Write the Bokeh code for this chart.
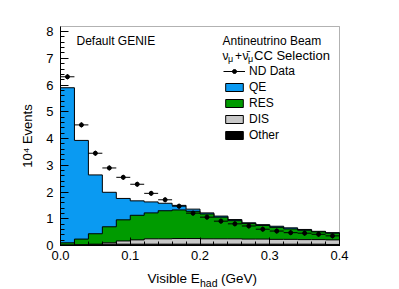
import numpy as np
from bokeh.plotting import figure
from bokeh.models import (Label, Legend, LegendItem, Range1d, SingleIntervalTicker,
                          PrintfTickFormatter, BoxAnnotation)
from bokeh.embed import file_html
from bokeh.resources import INLINE

# ---------------- data (10^4 events per 0.02 GeV bin) ----------------
bin_edges = [0.00, 0.02, 0.04, 0.06, 0.08, 0.10, 0.12, 0.14, 0.16, 0.18, 0.20,
             0.22, 0.24, 0.26, 0.28, 0.30, 0.32, 0.34, 0.36, 0.38, 0.40]
nd_data = [6.31, 4.51, 3.45, 2.90, 2.55, 2.29, 1.95, 1.71, 1.47, 1.21,
           1.06, 0.91, 0.81, 0.73, 0.61, 0.54, 0.48, 0.46, 0.42, 0.36]
nd_err = [0.05, 0.04, 0.04, 0.03, 0.03, 0.03, 0.03, 0.03, 0.03, 0.03,
          0.03, 0.02, 0.02, 0.02, 0.02, 0.02, 0.02, 0.02, 0.02, 0.02]
qe = [5.80, 3.69, 2.20, 1.29, 0.80, 0.54, 0.41, 0.28, 0.17, 0.08,
      0.04, 0.04, 0.04, 0.03, 0.03, 0.04, 0.04, 0.03, 0.02, 0.02]
res = [0.08, 0.21, 0.39, 0.60, 0.79, 0.92, 0.97, 1.05, 1.07, 1.02,
       0.93, 0.81, 0.68, 0.58, 0.51, 0.45, 0.39, 0.35, 0.29, 0.25]
dis = [0.01, 0.01, 0.02, 0.05, 0.12, 0.16, 0.20, 0.20, 0.21, 0.21,
       0.20, 0.20, 0.20, 0.19, 0.19, 0.18, 0.18, 0.17, 0.17, 0.17]
other = [0.01, 0.02, 0.03, 0.05, 0.05, 0.05, 0.05, 0.05, 0.05, 0.05,
         0.05, 0.05, 0.05, 0.05, 0.05, 0.05, 0.05, 0.05, 0.05, 0.04]
x_ticks = [0.0, 0.1, 0.2, 0.3, 0.4]
y_ticks = [0, 1, 2, 3, 4, 5, 6, 7, 8]

FONT = "Liberation Sans"

# visible axes box and the padding (in pixels) around it
X0, X1, Y0, Y1 = 0.0, 0.4, 0.0, 8.19
W, H = 399, 289
PAD_L, PAD_R, PAD_T, PAD_B = 60, 60, 26, 44
fw, fh = W - PAD_L - PAD_R, H - PAD_T - PAD_B
xs_per_px = (X1 - X0) / fw
ys_per_px = (Y1 - Y0) / fh
x_range = Range1d(X0 - PAD_L * xs_per_px, X1 + PAD_R * xs_per_px)
y_range = Range1d(Y0 - PAD_B * ys_per_px, Y1 + PAD_T * ys_per_px)

p = figure(width=W, height=H, output_backend="svg", toolbar_location=None,
           x_range=x_range, y_range=y_range,
           min_border_left=0, min_border_right=0, min_border_top=0, min_border_bottom=0)
p.background_fill_color = "white"
p.border_fill_color = "white"
p.outline_line_color = None
p.xgrid.visible = False
p.ygrid.visible = False

edges = np.array(bin_edges)
left, right = edges[:-1], edges[1:]
centers = (left + right) / 2

# stacked cumulative histograms (ROOT THStack style)
c_other = np.array(other)
c_dis = c_other + np.array(dis)
c_res = c_dis + np.array(res)
c_qe = c_res + np.array(qe)


def step_patch(vals):
    xs = [edges[0]]
    ys = [0.0]
    for i, v in enumerate(vals):
        xs += [edges[i], edges[i + 1]]
        ys += [v, v]
    xs.append(edges[-1])
    ys.append(0.0)
    return xs, ys


layers = [("QE", c_qe, "#0a9af2"), ("RES", c_res, "#009b00"),
          ("DIS", c_dis, "#c8c8c8"), ("Other", c_other, "#000000")]
rend = {}
for name, vals, col in layers:
    xs, ys = step_patch(vals)
    rend[name] = p.patch(xs, ys, fill_color=col, line_color="black", line_width=1)

# data points
nd = np.array(nd_data)
err = np.array(nd_err)
hseg = p.segment(x0=left, x1=right, y0=nd, y1=nd, line_color="black", line_width=1)
p.segment(x0=centers, x1=centers, y0=nd - err, y1=nd + err, line_color="black", line_width=1)
vtick = p.scatter(x=centers, y=nd, marker="dash", angle=np.pi / 2, size=5,
                  line_color="black", line_width=1)
dots = p.scatter(x=centers, y=nd, marker="circle", size=4, fill_color="black",
                 line_color="black")

# frame box
p.add_layout(BoxAnnotation(left=X0, right=X1, bottom=Y0, top=Y1, fill_alpha=0,
                           line_color="black", line_width=1, level="overlay"))

# axes placed at the box edges
p.xaxis.fixed_location = Y0
p.yaxis.fixed_location = X0
p.xaxis.bounds = (X0, X1)
p.yaxis.bounds = (Y0, Y1)
p.xaxis.ticker = SingleIntervalTicker(interval=0.1, num_minor_ticks=5)
p.yaxis.ticker = SingleIntervalTicker(interval=1, num_minor_ticks=5)
p.xaxis.formatter = PrintfTickFormatter(format="%.1f")
for ax in (p.xaxis[0], p.yaxis[0]):
    ax.major_tick_in = 8
    ax.major_tick_out = 0
    ax.minor_tick_in = 4
    ax.minor_tick_out = 0
    ax.major_tick_line_color = "black"
    ax.minor_tick_line_color = "black"
    ax.axis_line_color = "black"
    ax.major_label_text_font = FONT
    ax.major_label_text_font_size = "13px"
    ax.major_label_text_color = "black"
    ax.axis_label_text_font = FONT
    ax.axis_label_text_font_style = "normal"
    ax.axis_label_text_color = "black"
p.yaxis.major_label_standoff = 7
p.xaxis.major_label_standoff = 5
p.yaxis.axis_label = "10\u2074 Events"
p.yaxis.axis_label_text_font_size = "13px"
p.yaxis.axis_label_standoff = 8

# x-axis title with subscript
xl_x = 0.1247
p.add_layout(Label(x=xl_x, y=Y0, text="Visible E", x_offset=0, y_offset=-33,
                   text_font=FONT, text_font_size="13.5px", text_baseline="alphabetic",
                   text_color="black"))
p.add_layout(Label(x=xl_x, y=Y0, text="had", x_offset=52.5, y_offset=-37,
                   text_font=FONT, text_font_size="10.5px", text_baseline="alphabetic",
                   text_color="black"))
p.add_layout(Label(x=xl_x, y=Y0, text="(GeV)", x_offset=73.5, y_offset=-33,
                   text_font=FONT, text_font_size="13.5px", text_baseline="alphabetic",
                   text_color="black"))

# texts
p.add_layout(Label(x=0.0229, y=7.63, text="Default GENIE", text_font=FONT,
                   text_font_size="12px", text_baseline="alphabetic", text_color="black"))
tx, ty = 0.2323, 7.66
p.add_layout(Label(x=tx, y=ty, text="Antineutrino Beam", text_font=FONT,
                   text_font_size="12px", text_baseline="alphabetic", text_color="black"))
ty2 = 7.10
pieces = [("\u03bd", 0, 0, "12px"), ("\u03bc", 5.5, -3, "9px"), ("+", 12.5, 0, "12px"),
          ("\u03bd\u0304", 20, 0, "12px"), ("\u03bc", 25.5, -3, "9px"),
          ("CC Selection", 31.5, 0, "13px")]
for t, dx, dy, fs in pieces:
    p.add_layout(Label(x=tx, y=ty2, text=t, x_offset=dx, y_offset=dy, text_font=FONT,
                       text_font_size=fs, text_baseline="alphabetic", text_color="black"))

legend = Legend(items=[LegendItem(label="ND Data", renderers=[hseg, vtick, dots]),
                       LegendItem(label="QE", renderers=[rend["QE"]]),
                       LegendItem(label="RES", renderers=[rend["RES"]]),
                       LegendItem(label="DIS", renderers=[rend["DIS"]]),
                       LegendItem(label="Other", renderers=[rend["Other"]])],
                location=(163 + PAD_L, 103 + PAD_B), border_line_color=None,
                background_fill_alpha=0,
                padding=0, margin=0, spacing=2, glyph_width=22, glyph_height=10,
                label_height=12, label_standoff=4, label_text_font=FONT,
                label_text_font_size="12px", label_text_color="black")
p.add_layout(legend)

open("out.html", "w").write(file_html(p, INLINE))
